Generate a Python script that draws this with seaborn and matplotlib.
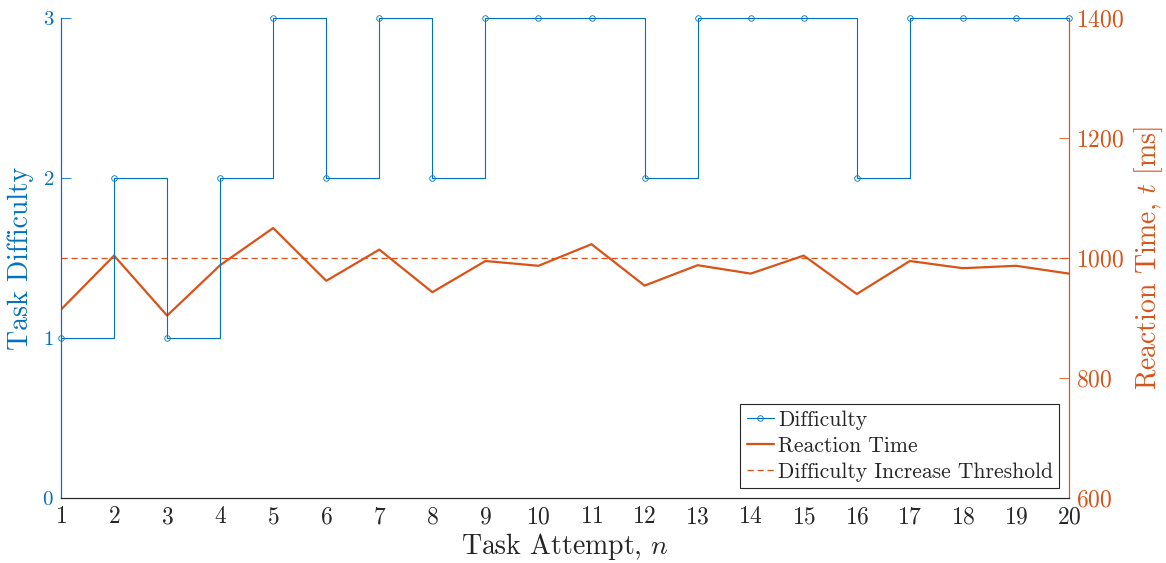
import matplotlib
matplotlib.use('Agg')
import matplotlib.pyplot as plt
import seaborn as sns
import numpy as np
import pandas as pd

# data
attempts = list(range(1, 21))
difficulty = [1, 2, 1, 2, 3, 2, 3, 2, 3, 3, 3, 2, 3, 3, 3, 2, 3, 3, 3, 3]
reaction_ms = [914, 1004, 904, 988, 1050, 962, 1014, 943, 995, 987,
               1023, 954, 988, 974, 1004, 940, 995, 983, 987, 974]
threshold_ms = 1000

blue = '#0072BD'
orange = '#D95319'
axis_grey = '#262626'

sns.set_style('white')
plt.rcParams['font.family'] = ['cmr10', 'DejaVu Serif']
plt.rcParams['mathtext.fontset'] = 'cm'
plt.rcParams['axes.formatter.use_mathtext'] = True

df = pd.DataFrame({'n': attempts, 'difficulty': difficulty, 'rt': reaction_ms})

fig = plt.figure(figsize=(11.66, 5.63), dpi=100)
ax = fig.add_axes([61 / 1166, 65 / 563, 1008 / 1166, 480 / 563])
ax2 = ax.twinx()
ax.set_zorder(ax2.get_zorder() + 1)
ax.patch.set_visible(False)

# difficulty as stairs
sns.lineplot(data=df, x='n', y='difficulty', ax=ax, color=blue, linewidth=0.8,
             drawstyle='steps-post', marker='o', markersize=4,
             markerfacecolor='none', markeredgecolor=blue, markeredgewidth=0.6,
             label='Difficulty', legend=False, clip_on=False)

# reaction time and threshold
sns.lineplot(data=df, x='n', y='rt', ax=ax2, color=orange, linewidth=1.6,
             label='Reaction Time', legend=False)
ax2.axhline(threshold_ms, color=orange, linestyle=(0, (5, 3)), linewidth=0.9,
            label='Difficulty Increase Threshold')

ax.set_xlim(1, 20)
ax.set_ylim(0, 3)
ax.set_xticks(attempts)
ax.set_yticks([0, 1, 2, 3])
ax2.set_ylim(600, 1400)
ax2.set_yticks([600, 800, 1000, 1200, 1400])

ax.set_xlabel(r'Task Attempt, $n$', fontsize=20, color=axis_grey, labelpad=2)
ax.set_ylabel('Task Difficulty', fontsize=20, color=blue, labelpad=6)
ax2.set_ylabel(r'Reaction Time, $t$ [ms]', fontsize=20, color=orange, labelpad=6)

ax.tick_params(axis='x', direction='in', length=7, width=0.6, colors=axis_grey,
               labelsize=17, top=False, pad=6)
ax.tick_params(axis='y', direction='in', length=7, width=0.6, colors=blue,
               labelsize=15, pad=5)
ax2.tick_params(axis='y', direction='in', length=7, width=0.6, colors=orange,
                labelsize=17, pad=5)

for a in (ax, ax2):
    a.spines['top'].set_visible(False)
    for s in ('left', 'right', 'bottom'):
        a.spines[s].set_visible(True)
        a.spines[s].set_linewidth(0.8)
ax.spines['bottom'].set_color(axis_grey)
ax2.spines['bottom'].set_color(axis_grey)
ax.spines['left'].set_color(blue)
ax2.spines['left'].set_color(blue)
ax.spines['right'].set_color(orange)
ax2.spines['right'].set_color(orange)

h1, l1 = ax.get_legend_handles_labels()
h2, l2 = ax2.get_legend_handles_labels()
leg = ax.legend(h1 + h2, l1 + l2, loc='lower right', fontsize=15.5,
                fancybox=False, framealpha=1, edgecolor=axis_grey,
                borderpad=0.3, handlelength=1.25, handletextpad=0.2,
                labelspacing=0.3, borderaxespad=0.45)
leg.get_frame().set_linewidth(0.8)

fig.savefig('out.png', dpi=100)
plt.close(fig)
